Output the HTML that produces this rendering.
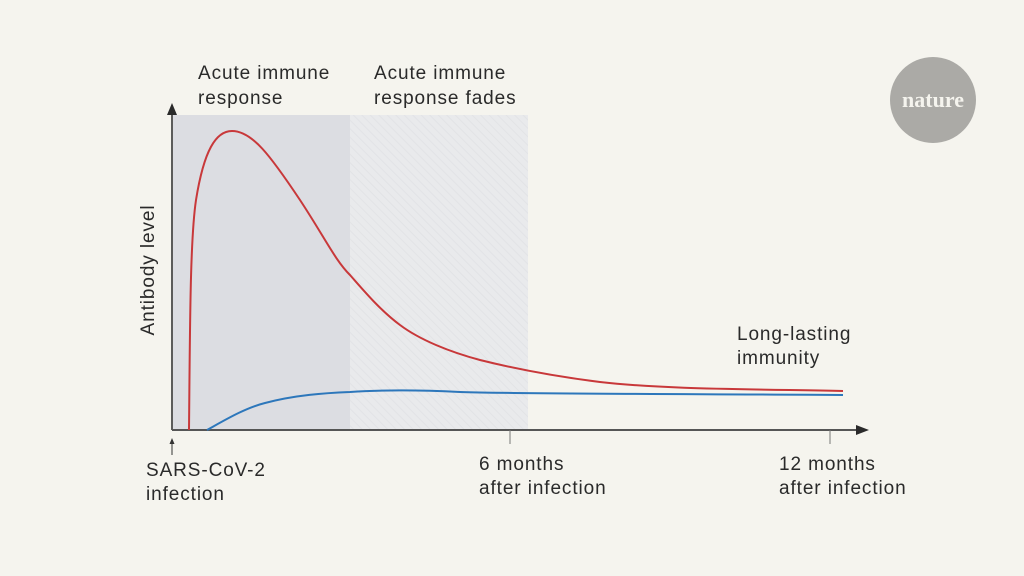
<!DOCTYPE html>
<html><head><style>
body{margin:0;background:#f5f4ee;}
svg{display:block}
text{font-family:"Liberation Sans",sans-serif;fill:#2a2a2a;font-size:19px;letter-spacing:0.9px}
</style></head><body>
<svg width="1024" height="576" viewBox="0 0 1024 576">
<defs>
<pattern id="h" width="6" height="6" patternUnits="userSpaceOnUse" patternTransform="rotate(-45)">
<rect width="6" height="6" fill="#e9eaec"/><line x1="0" y1="0" x2="0" y2="6" stroke="#e2e3e6" stroke-width="2"/>
</pattern>
</defs>
<rect width="1024" height="576" fill="#f5f4ee"/>
<rect x="173" y="115" width="177" height="315" fill="#dcdde2"/>
<rect x="350" y="115" width="178" height="315" fill="url(#h)"/>
<text x="198" y="79">Acute immune</text>
<text x="198" y="104">response</text>
<text x="374" y="79">Acute immune</text>
<text x="374" y="104">response fades</text>
<text x="737" y="340">Long-lasting</text>
<text x="737" y="364">immunity</text>
<text x="146" y="476">SARS-CoV-2</text>
<text x="146" y="500">infection</text>
<text x="479" y="470">6 months</text>
<text x="479" y="494">after infection</text>
<text x="779" y="470">12 months</text>
<text x="779" y="494">after infection</text>
<text transform="translate(154,270) rotate(-90)" text-anchor="middle">Antibody level</text>
<line x1="172" y1="430" x2="172" y2="112" stroke="#2a2a2a" stroke-width="1.5"/>
<path d="M167,115 L172,103 L177,115 Z" fill="#2a2a2a"/>
<line x1="172" y1="430" x2="858" y2="430" stroke="#555" stroke-width="2"/>
<path d="M856,425 L869,430 L856,435 Z" fill="#2a2a2a"/>
<line x1="510" y1="430" x2="510" y2="444" stroke="#777" stroke-width="1"/>
<line x1="830" y1="430" x2="830" y2="444" stroke="#777" stroke-width="1"/>
<line x1="172" y1="441" x2="172" y2="455" stroke="#333" stroke-width="1"/>
<path d="M169.5,444 L172,438 L174.5,444 Z" fill="#333"/>
<path d="M189,430 C190,330 190,240 196,200 C204,150 216,131 232,131 C252,131 270,155 300,200 C325,238 335,260 350,275 C365,292 380,310 400,325 C420,340 450,352 480,360 C520,370 560,377 600,382 C660,389 740,389 843,391" fill="none" stroke="#c8383a" stroke-width="2"/>
<path d="M207,430 C225,420 245,408 265,403 C295,395 325,393 350,392 C380,390 420,390 460,392 C520,394 700,394 843,395" fill="none" stroke="#2d77bb" stroke-width="2"/>
<circle cx="933" cy="100" r="43" fill="#abaaa6"/>
<text x="933" y="107" text-anchor="middle" style="font-family:'Liberation Serif',serif;font-size:22px;font-weight:600;letter-spacing:0;fill:#f5f4ee">nature</text>
</svg>
</body></html>
